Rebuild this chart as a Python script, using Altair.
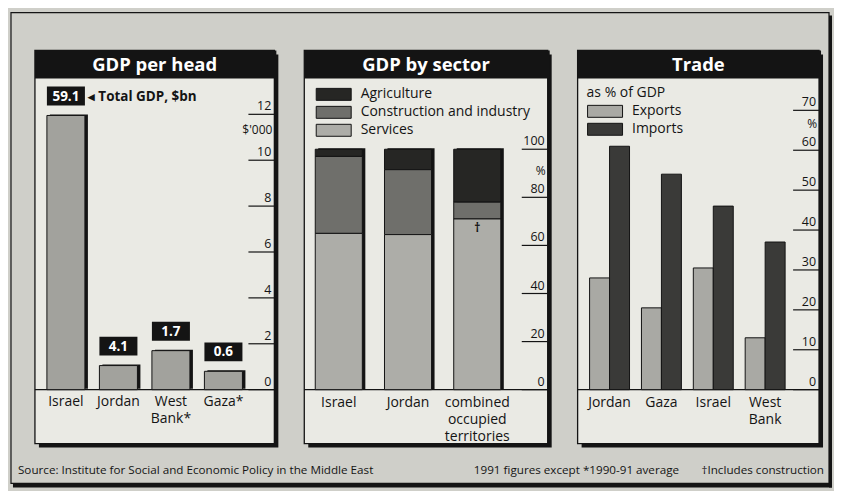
import altair as alt
import pandas as pd

FONT = "Open Sans"
BG = "#cfcfc9"
PANEL = "#eaeae4"
INK = "#141414"

# ---------------- data ----------------
# Panel 1: GDP per head ($'000) and total GDP ($bn)
p1_countries = ["Israel", "Jordan", "West Bank*", "Gaza*"]
p1_labels = ["Israel", "Jordan", "West\nBank*", "Gaza*"]
p1_gdp_per_head = [11.95, 1.05, 1.7, 0.8]
p1_total_gdp = ["59.1", "4.1", "1.7", "0.6"]
p1_ticks = [0, 2, 4, 6, 8, 10, 12]
p1_note = "\u25c2 Total GDP, $bn"

# Panel 2: GDP by sector (%)
p2_countries = ["Israel", "Jordan", "combined occupied territories"]
p2_labels = ["Israel", "Jordan", "combined\noccupied\nterritories"]
p2_sectors = ["Agriculture", "Construction and industry", "Services"]
p2_sector_colors = ["#262624", "#6f6f6b", "#adada8"]
p2_stack_rank = [2, 1, 0]
p2_agriculture = [3, 8.5, 22]
p2_construction = [32, 27, 7]
p2_services = [65, 64.5, 71]
p2_ticks = [0, 20, 40, 60, 80, 100]

# Panel 3: Trade as % of GDP
p3_countries = ["Jordan", "Gaza", "Israel", "West Bank"]
p3_labels = ["Jordan", "Gaza", "Israel", "West\nBank"]
p3_flows = ["Exports", "Imports"]
p3_flow_colors = ["#a9a9a4", "#3a3a38"]
p3_exports = [28, 20.5, 30.5, 13]
p3_imports = [61, 54, 46, 37]
p3_ticks = [0, 10, 20, 30, 40, 50, 60, 70]

source_text = "Source: Institute for Social and Economic Policy in the Middle East"
note_text = "1991 figures except *1990-91 average"
dagger_text = "\u2020Includes construction"

# ---------------- geometry ----------------
H = 394
W1, W2, W3 = 240, 244, 242
SPACING = 30
ZERO = 340
TOTAL_W = W1 + W2 + W3 + 2 * SPACING
LBL = 14
SWATCH = "M-2.92,-1H2.92V1H-2.92Z"


def one():
    return pd.DataFrame({"k": [0]})


def panel_decor(W, title):
    d = one()
    shadow = alt.Chart(d).mark_rect(color=INK).encode(
        x=alt.value(4), x2=alt.value(W + 4), y=alt.value(4), y2=alt.value(H + 4))
    box = alt.Chart(d).mark_rect(fill=PANEL, stroke=INK, strokeWidth=1.3).encode(
        x=alt.value(0), x2=alt.value(W), y=alt.value(0), y2=alt.value(H))
    tbar = alt.Chart(d).mark_rect(color=INK).encode(
        x=alt.value(0), x2=alt.value(W + 2), y=alt.value(0), y2=alt.value(28))
    ttxt = alt.Chart(d).mark_text(
        color="white", font=FONT, fontSize=18.5, fontWeight="bold", baseline="middle"
    ).encode(x=alt.value(W / 2), y=alt.value(15), text=alt.value(title))
    return [shadow, box, tbar, ttxt]


def right_axis(W, ticks, yscale, unit, unit_pos):
    td = pd.DataFrame({"t": ticks})
    zero = alt.Chart(pd.DataFrame({"t": [0]})).mark_rule(color=INK, strokeWidth=1.2).encode(
        y=alt.Y("t:Q", scale=yscale, axis=None), x=alt.value(0), x2=alt.value(W))
    rules = alt.Chart(td).mark_rule(color=INK, strokeWidth=1.2).encode(
        y=alt.Y("t:Q", scale=yscale, axis=None), x=alt.value(W - 26), x2=alt.value(W))
    labs = alt.Chart(td).mark_text(
        align="right", baseline="bottom", dy=-1, font=FONT, fontSize=12.5, color=INK
    ).encode(y=alt.Y("t:Q", scale=yscale, axis=None), x=alt.value(W - 3), text=alt.Text("t:Q"))
    u = alt.Chart(pd.DataFrame({"t": [unit_pos], "u": [unit]})).mark_text(
        align="right", baseline="middle", font=FONT, fontSize=12, color=INK
    ).encode(y=alt.Y("t:Q", scale=yscale, axis=None), x=alt.value(W - 2), text="u:N")
    return [zero, rules, labs, u]


def outer_frame():
    fd = one()
    frame = alt.Chart(fd).mark_rect(fillOpacity=0, stroke=INK, strokeWidth=1.2).encode(
        x=alt.value(-24), x2=alt.value(TOTAL_W + 10), y=alt.value(-38), y2=alt.value(H + 40))
    sh_b = alt.Chart(fd).mark_rect(color=INK).encode(
        x=alt.value(-22), x2=alt.value(TOTAL_W + 13), y=alt.value(H + 40), y2=alt.value(H + 44))
    sh_r = alt.Chart(fd).mark_rect(color=INK).encode(
        x=alt.value(TOTAL_W + 10), x2=alt.value(TOTAL_W + 13), y=alt.value(-35), y2=alt.value(H + 44))
    t_src = alt.Chart(fd).mark_text(align="left", baseline="middle", font=FONT, fontSize=11.7,
                                    color=INK).encode(
        x=alt.value(-17), y=alt.value(H + 27), text=alt.value(source_text))
    t_note = alt.Chart(fd).mark_text(align="left", baseline="middle", font=FONT, fontSize=11.7,
                                     color=INK).encode(
        x=alt.value(440), y=alt.value(H + 27), text=alt.value(note_text))
    t_dag = alt.Chart(fd).mark_text(align="right", baseline="middle", font=FONT, fontSize=11.7,
                                    color=INK).encode(
        x=alt.value(TOTAL_W + 5), y=alt.value(H + 27), text=alt.value(dagger_text))
    return [frame, sh_b, sh_r, t_src, t_note, t_dag]


def legend(x, y, title=None):
    kw = dict(orient="none", legendX=x, legendY=y,
              symbolType=SWATCH, symbolSize=144, symbolOffset=11.5,
              symbolStrokeColor=INK, symbolStrokeWidth=1, symbolOpacity=1,
              labelFont=FONT, labelFontSize=LBL, labelColor=INK, labelOffset=20,
              labelLimit=400, rowPadding=2, padding=0)
    if title is None:
        kw["title"] = None
    else:
        kw.update(title=title, titleFont=FONT, titleFontSize=LBL, titleFontWeight="normal",
                  titleColor=INK, titlePadding=4, titleBaseline="top")
    return alt.Legend(**kw)


# ---------------- panel 1 ----------------
y1 = alt.Scale(domain=[0, 12], range=[ZERO, ZERO - 276], nice=False, zero=True)
x1 = alt.Scale(domain=p1_countries, range=[12, 208], paddingInner=0.276, paddingOuter=0)
df1 = pd.DataFrame({"country": p1_countries, "label": p1_labels,
                    "v": p1_gdp_per_head, "total": p1_total_gdp})
X1 = alt.X("country:N", scale=x1, axis=None, sort=p1_countries)
base1 = alt.Chart(df1)
b1_shadow = base1.mark_bar(color=INK, xOffset=3, yOffset=-1).encode(
    x=X1, y=alt.Y("v:Q", scale=y1, axis=None))
b1 = base1.mark_bar(fill="#a2a29d", stroke=INK, strokeWidth=1).encode(
    x=X1, y=alt.Y("v:Q", scale=y1, axis=None))
box1 = base1.mark_rect(color=INK, yOffset=-29, y2Offset=-10).encode(
    x=X1, y=alt.Y("v:Q", scale=y1, axis=None), y2=alt.Y2("v:Q"))
boxt1 = base1.mark_text(color="white", font=FONT, fontSize=13.5, fontWeight="bold",
                        yOffset=-19, baseline="middle").encode(
    x=X1, y=alt.Y("v:Q", scale=y1, axis=None), text="total:N")
note1 = alt.Chart(pd.DataFrame({"country": [p1_countries[0]], "v": [p1_gdp_per_head[0]],
                                "t": [p1_note]})).mark_text(
    align="left", baseline="middle", xOffset=22, yOffset=-19, font=FONT, fontSize=13.5,
    fontWeight="bold", color=INK).encode(
    x=X1, y=alt.Y("v:Q", scale=y1, axis=None), text="t:N")
xl1 = base1.mark_text(baseline="top", lineBreak="\n", font=FONT, fontSize=LBL,
                      lineHeight=17, color=INK).encode(
    x=X1, y=alt.value(ZERO + 5), text="label:N")

panel1 = alt.layer(
    *outer_frame(),
    *panel_decor(W1, "GDP per head"),
    *right_axis(W1, p1_ticks, y1, "$'000", 11.3),
    b1_shadow, b1, box1, boxt1, note1, xl1,
).properties(width=W1, height=H)

# ---------------- panel 2 ----------------
y2 = alt.Scale(domain=[0, 100], range=[ZERO, ZERO - 241], nice=False, zero=True)
x2 = alt.Scale(domain=p2_countries, range=[11, 197], paddingInner=0.32, paddingOuter=0)
rows = []
for i, c in enumerate(p2_countries):
    for s, vals, r in zip(p2_sectors, [p2_agriculture, p2_construction, p2_services], p2_stack_rank):
        rows.append({"country": c, "sector": s, "pct": vals[i], "rank": r})
df2 = pd.DataFrame(rows)
X2 = alt.X("country:N", scale=x2, axis=None, sort=p2_countries)
b2_shadow = alt.Chart(df2).mark_bar(color=INK, xOffset=3, yOffset=-1).encode(
    x=X2, y=alt.Y("sum(pct):Q", scale=y2, axis=None))
b2 = alt.Chart(df2).mark_bar(stroke=INK, strokeWidth=1).encode(
    x=X2,
    y=alt.Y("pct:Q", stack="zero", scale=y2, axis=None),
    color=alt.Color("sector:N", scale=alt.Scale(domain=p2_sectors, range=p2_sector_colors),
                    legend=legend(11, 37)),
    order=alt.Order("rank:Q", sort="ascending"),
)
dag2 = alt.Chart(pd.DataFrame({"country": [p2_countries[2]], "v": [p2_services[2]],
                               "t": ["\u2020"]})).mark_text(
    baseline="top", yOffset=4, font=FONT, fontSize=12, fontWeight="bold", color=INK).encode(
    x=X2, y=alt.Y("v:Q", scale=y2, axis=None), text="t:N")
xl2 = alt.Chart(pd.DataFrame({"country": p2_countries, "label": p2_labels})).mark_text(
    baseline="top", lineBreak="\n", font=FONT, fontSize=LBL, lineHeight=17, color=INK).encode(
    x=X2, y=alt.value(ZERO + 6), text="label:N")

panel2 = alt.layer(
    *panel_decor(W2, "GDP by sector"),
    *right_axis(W2, p2_ticks, y2, "%", 91),
    b2_shadow, b2, dag2, xl2,
).properties(width=W2, height=H)

# ---------------- panel 3 ----------------
y3 = alt.Scale(domain=[0, 70], range=[ZERO, ZERO - 280], nice=False, zero=True)
x3 = alt.Scale(domain=p3_countries, range=[12, 208], paddingInner=0.23, paddingOuter=0)
rows = []
for i, c in enumerate(p3_countries):
    rows.append({"country": c, "flow": "Exports", "pct": p3_exports[i]})
    rows.append({"country": c, "flow": "Imports", "pct": p3_imports[i]})
df3 = pd.DataFrame(rows)
X3 = alt.X("country:N", scale=x3, axis=None, sort=p3_countries)
b3 = alt.Chart(df3).mark_bar(stroke=INK, strokeWidth=1).encode(
    x=X3,
    xOffset=alt.XOffset("flow:N", sort=p3_flows, scale=alt.Scale(paddingInner=0, paddingOuter=0)),
    y=alt.Y("pct:Q", scale=y3, axis=None),
    color=alt.Color("flow:N", scale=alt.Scale(domain=p3_flows, range=p3_flow_colors),
                    legend=legend(9, 36, "as % of GDP")),
)
xl3 = alt.Chart(pd.DataFrame({"country": p3_countries, "label": p3_labels})).mark_text(
    baseline="top", lineBreak="\n", font=FONT, fontSize=LBL, lineHeight=17, color=INK).encode(
    x=X3, y=alt.value(ZERO + 6), text="label:N")

panel3 = alt.layer(
    *panel_decor(W3, "Trade"),
    *right_axis(W3, p3_ticks, y3, "%", 66.5),
    b3, xl3,
).properties(width=W3, height=H)

chart = alt.hconcat(panel1, panel2, panel3, spacing=SPACING, bounds="flush").resolve_scale(
    x="independent", y="independent", color="independent"
).resolve_legend(color="independent").properties(
    padding={"left": 1, "top": 2, "right": 1, "bottom": 2},
    background=BG,
).configure_view(strokeWidth=0).configure(font=FONT)

chart.save("out.html", embed_options={"renderer": "svg", "actions": False})
